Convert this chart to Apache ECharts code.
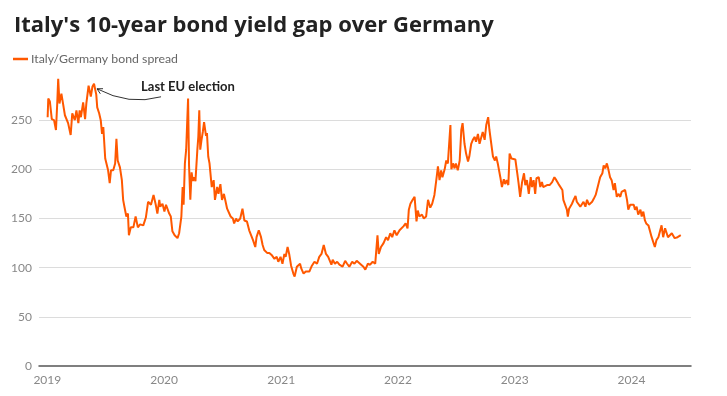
<!DOCTYPE html>
<html>
<head>
<meta charset="utf-8">
<script src="https://cdn.jsdelivr.net/npm/echarts@6/dist/echarts.min.js"></script>
<style>
  html, body { margin: 0; padding: 0; background: #fff; }
  #chart { width: 727px; height: 396px; }
</style>
</head>
<body>
<div id="chart"></div>
<script>
// Italy/Germany 10-year spread, basis points
const dates = [
  '2019-01-02','2019-01-04','2019-01-09','2019-01-15','2019-01-22','2019-01-28','2019-02-01','2019-02-04','2019-02-08','2019-02-14',
  '2019-02-19','2019-02-25','2019-03-01','2019-03-07','2019-03-15','2019-03-20','2019-03-28','2019-04-02','2019-04-08','2019-04-12',
  '2019-04-16','2019-04-23','2019-04-29','2019-05-03','2019-05-10','2019-05-17','2019-05-22','2019-05-27','2019-06-03','2019-06-06',
  '2019-06-12','2019-06-17','2019-06-21','2019-06-25','2019-07-01','2019-07-05','2019-07-10','2019-07-15','2019-07-19','2019-07-26',
  '2019-08-01','2019-08-05','2019-08-09','2019-08-16','2019-08-22','2019-08-26','2019-08-30','2019-09-05','2019-09-10','2019-09-13',
  '2019-09-19','2019-09-27','2019-10-04','2019-10-11','2019-10-18','2019-10-28','2019-11-05','2019-11-12','2019-11-21','2019-11-29',
  '2019-12-06','2019-12-11','2019-12-17','2019-12-20','2019-12-27',
  '2020-01-02','2020-01-07','2020-01-13','2020-01-17','2020-01-22','2020-01-27','2020-02-03','2020-02-07','2020-02-12','2020-02-17',
  '2020-02-24','2020-02-28','2020-03-02','2020-03-06','2020-03-10','2020-03-16','2020-03-19','2020-03-23','2020-03-27','2020-03-31',
  '2020-04-03','2020-04-08','2020-04-14','2020-04-17','2020-04-20','2020-04-23','2020-04-27','2020-05-01','2020-05-05','2020-05-11',
  '2020-05-14','2020-05-18','2020-05-22','2020-05-26','2020-05-29','2020-06-04','2020-06-08','2020-06-15','2020-06-19','2020-06-25',
  '2020-06-30','2020-07-06','2020-07-10','2020-07-16','2020-07-20','2020-07-27','2020-08-03','2020-08-07','2020-08-13','2020-08-18',
  '2020-08-26','2020-09-02','2020-09-08','2020-09-16','2020-09-23','2020-09-29','2020-10-05','2020-10-12','2020-10-16','2020-10-23',
  '2020-10-30','2020-11-04','2020-11-09','2020-11-18','2020-11-25','2020-12-02','2020-12-08','2020-12-11','2020-12-18','2020-12-23',
  '2020-12-30',
  '2021-01-05','2021-01-11','2021-01-15','2021-01-21','2021-01-26','2021-02-01','2021-02-08','2021-02-12','2021-02-19','2021-03-01',
  '2021-03-05','2021-03-12','2021-03-19','2021-03-30','2021-04-07','2021-04-15','2021-04-23','2021-04-30','2021-05-07','2021-05-14',
  '2021-05-21','2021-05-28','2021-06-07','2021-06-11','2021-06-18','2021-06-25','2021-07-02','2021-07-12','2021-07-20','2021-07-26',
  '2021-08-02','2021-08-11','2021-08-18','2021-08-25','2021-08-31','2021-09-08','2021-09-15','2021-09-21','2021-09-29','2021-10-06',
  '2021-10-14','2021-10-22','2021-10-29','2021-11-02','2021-11-09','2021-11-17','2021-11-25','2021-12-01','2021-12-08','2021-12-14',
  '2021-12-21','2021-12-28',
  '2022-01-06','2022-01-12','2022-01-18','2022-01-25','2022-01-31','2022-02-04','2022-02-09','2022-02-16','2022-02-22','2022-02-28',
  '2022-03-04','2022-03-09','2022-03-17','2022-03-23','2022-03-30','2022-04-05','2022-04-12','2022-04-18','2022-04-25','2022-05-02',
  '2022-05-06','2022-05-11','2022-05-16','2022-05-20','2022-05-27','2022-06-01','2022-06-06','2022-06-14','2022-06-17','2022-06-22',
  '2022-06-27','2022-07-01','2022-07-07','2022-07-13','2022-07-18','2022-07-22','2022-07-28','2022-08-02','2022-08-08','2022-08-12',
  '2022-08-18','2022-08-23','2022-08-29','2022-09-02','2022-09-08','2022-09-13','2022-09-16','2022-09-23','2022-09-29','2022-10-04',
  '2022-10-10','2022-10-14','2022-10-19','2022-10-25','2022-10-31','2022-11-04','2022-11-09','2022-11-17','2022-11-22','2022-11-28',
  '2022-12-02','2022-12-07','2022-12-12','2022-12-16','2022-12-22','2022-12-28',
  '2023-01-03','2023-01-09','2023-01-13','2023-01-18','2023-01-24','2023-01-30','2023-02-03','2023-02-08','2023-02-14','2023-02-20',
  '2023-02-24','2023-03-01','2023-03-06','2023-03-10','2023-03-17','2023-03-22','2023-03-27','2023-03-31','2023-04-06','2023-04-12',
  '2023-04-20','2023-04-28','2023-05-05','2023-05-11','2023-05-18','2023-05-24','2023-05-30','2023-06-02','2023-06-08','2023-06-13',
  '2023-06-16','2023-06-20','2023-06-23','2023-06-29','2023-07-04','2023-07-10','2023-07-14','2023-07-20','2023-07-25','2023-07-31',
  '2023-08-04','2023-08-10','2023-08-15','2023-08-21','2023-08-25','2023-08-31','2023-09-05','2023-09-11','2023-09-15','2023-09-20',
  '2023-09-25','2023-10-02','2023-10-06','2023-10-11','2023-10-16','2023-10-20','2023-10-26','2023-10-31','2023-11-06','2023-11-10',
  '2023-11-16','2023-11-21','2023-11-27','2023-12-01','2023-12-07','2023-12-12','2023-12-18','2023-12-22','2023-12-28',
  '2024-01-02','2024-01-08','2024-01-12','2024-01-17','2024-01-22','2024-01-29','2024-02-02','2024-02-07','2024-02-12','2024-02-16',
  '2024-02-23','2024-02-28','2024-03-04','2024-03-08','2024-03-14','2024-03-19','2024-03-25','2024-03-29','2024-04-04','2024-04-09',
  '2024-04-15','2024-04-19','2024-04-24','2024-04-29','2024-05-06','2024-05-10','2024-05-15','2024-05-20','2024-05-24','2024-05-30',
  '2024-06-03'
];

const spread = [
  253,272,269,251,250,240,267,292,267,277,
  267,255,257,247,235,257,250,260,247,260,
  253,268,251,267,285,274,284,287,276,263,
  257,250,236,243,211,213,199,186,199,199,
  206,231,209,202,189,169,162,152,155,133,
  141,141,152,141,144,143,151,167,164,174,
  164,155,169,162,165,
  157,164,164,155,152,137,133,131,130,135,
  152,182,164,206,220,272,204,169,197,188,
  192,188,220,233,260,220,230,238,248,234,
  237,213,206,192,182,189,169,182,175,185,
  169,175,169,160,162,152,150,145,150,147,
  150,160,148,147,138,136,128,121,131,138,
  131,123,118,115,115,113,111,109,111,106,
  111,
  104,114,111,121,114,102,94,91,101,104,
  99,94,96,96,102,106,104,111,114,123,
  114,111,103,108,104,106,103,101,107,104,
  101,106,104,107,106,103,101,98,104,103,
  106,104,133,114,121,125,131,128,135,131,
  138,133,
  138,136,142,145,140,159,165,169,172,147,
  158,152,154,150,152,169,161,165,174,192,
  203,189,199,192,200,209,206,245,200,206,
  201,206,199,209,240,247,226,216,208,213,
  226,230,233,228,236,226,228,238,230,245,
  253,240,240,213,209,213,206,192,182,190,
  185,189,184,216,211,211,
  210,196,186,172,187,196,184,189,175,192,
  182,189,175,191,192,182,187,182,184,184,
  184,187,192,189,185,184,179,169,170,159,
  152,160,162,165,169,173,167,165,162,162,
  167,162,169,164,162,167,170,174,179,181,
  192,196,204,201,206,201,192,189,179,186,
  172,175,172,177,175,179,169,159,164,
  165,164,159,162,154,159,152,157,148,145,
  143,141,131,130,121,128,131,133,143,131,
  140,136,131,130,135,133,130,131,131,132,
  133
];

const yTicks = [0, 50, 100, 150, 200, 250];
const seriesName = 'Italy/Germany bond spread';
const note = { date: '2019-05-27', value: 287, text: 'Last EU election' };

const FONT = 'Lato, "Noto Sans", sans-serif';
const TITLE_FONT = '"Open Sans", Lato, sans-serif';
const ORANGE = '#FF5800';

const chart = echarts.init(document.getElementById('chart'));

chart.setOption({
  animation: false,
  backgroundColor: '#fff',
  textStyle: { fontFamily: FONT },
  title: {
    text: "Italy's 10-year bond yield gap over Germany",
    left: 9,
    top: 10,
    textStyle: { fontFamily: TITLE_FONT, fontWeight: 'bold', fontSize: 22, color: '#222' }
  },
  legend: {
    left: 13,
    top: 53,
    padding: 0,
    icon: 'rect',
    itemWidth: 15,
    itemHeight: 2.5,
    textStyle: { fontFamily: FONT, fontSize: 12.3, color: '#666', padding: [0, 0, 0, -2] },
    data: [seriesName]
  },
  grid: { left: 39, right: 36, top: 71, bottom: 30 },
  xAxis: {
    type: 'time',
    min: '2018-12-06',
    max: '2024-07-05',
    minInterval: 365 * 24 * 3600 * 1000,
    axisLine: { show: true, lineStyle: { color: '#555', width: 1.5 } },
    axisTick: { show: false },
    splitLine: { show: false },
    axisLabel: {
      color: '#888',
      fontSize: 12,
      margin: 8,
      formatter: { year: '{yyyy}', month: '', day: '', hour: '', minute: '', second: '', millisecond: '' },
      showMinLabel: false,
      showMaxLabel: false
    }
  },
  yAxis: {
    type: 'value',
    min: 0,
    max: 300,
    interval: 50,
    axisLine: { show: false },
    axisTick: { show: false },
    axisLabel: {
      color: '#888',
      fontSize: 12,
      margin: 7,
      showMaxLabel: false,
      formatter: v => (yTicks.indexOf(v) >= 0 ? String(v) : '')
    },
    splitLine: { show: true, showMinLine: false, showMaxLine: false, lineStyle: { color: '#dcdcdc', width: 1 } }
  },
  series: [{
    name: seriesName,
    type: 'line',
    showSymbol: false,
    color: ORANGE,
    lineStyle: { color: ORANGE, width: 2 },
    data: dates.map((d, i) => [d, spread[i]])
  }]
});

// annotation: curved arrow pointing at the May 2019 peak
const p = chart.convertToPixel({ xAxisIndex: 0, yAxisIndex: 0 }, [note.date, note.value]);
const tip = [p[0] + 3, p[1] + 5];
const start = [tip[0] + 64, tip[1] + 8];
const ctrl = [tip[0] + 32, tip[1] + 17];
const ang = Math.atan2(ctrl[1] - tip[1], ctrl[0] - tip[0]);
const head = 6;
const a1 = [tip[0] + head * Math.cos(ang - 0.5), tip[1] + head * Math.sin(ang - 0.5)];
const a2 = [tip[0] + head * Math.cos(ang + 0.5), tip[1] + head * Math.sin(ang + 0.5)];

chart.setOption({
  graphic: [
    {
      type: 'bezierCurve',
      shape: { x1: start[0], y1: start[1], x2: tip[0], y2: tip[1], cpx1: ctrl[0], cpy1: ctrl[1] },
      style: { stroke: '#333', lineWidth: 1, fill: null }
    },
    {
      type: 'polyline',
      shape: { points: [a1, tip, a2] },
      style: { stroke: '#333', lineWidth: 1, fill: null }
    },
    {
      type: 'text',
      x: tip[0] + 44,
      y: tip[1] - 2,
      style: {
        text: note.text,
        fontFamily: FONT,
        fontWeight: 'bold',
        fontSize: 13,
        fill: '#222',
        verticalAlign: 'middle'
      }
    }
  ]
});
</script>
</body>
</html>
